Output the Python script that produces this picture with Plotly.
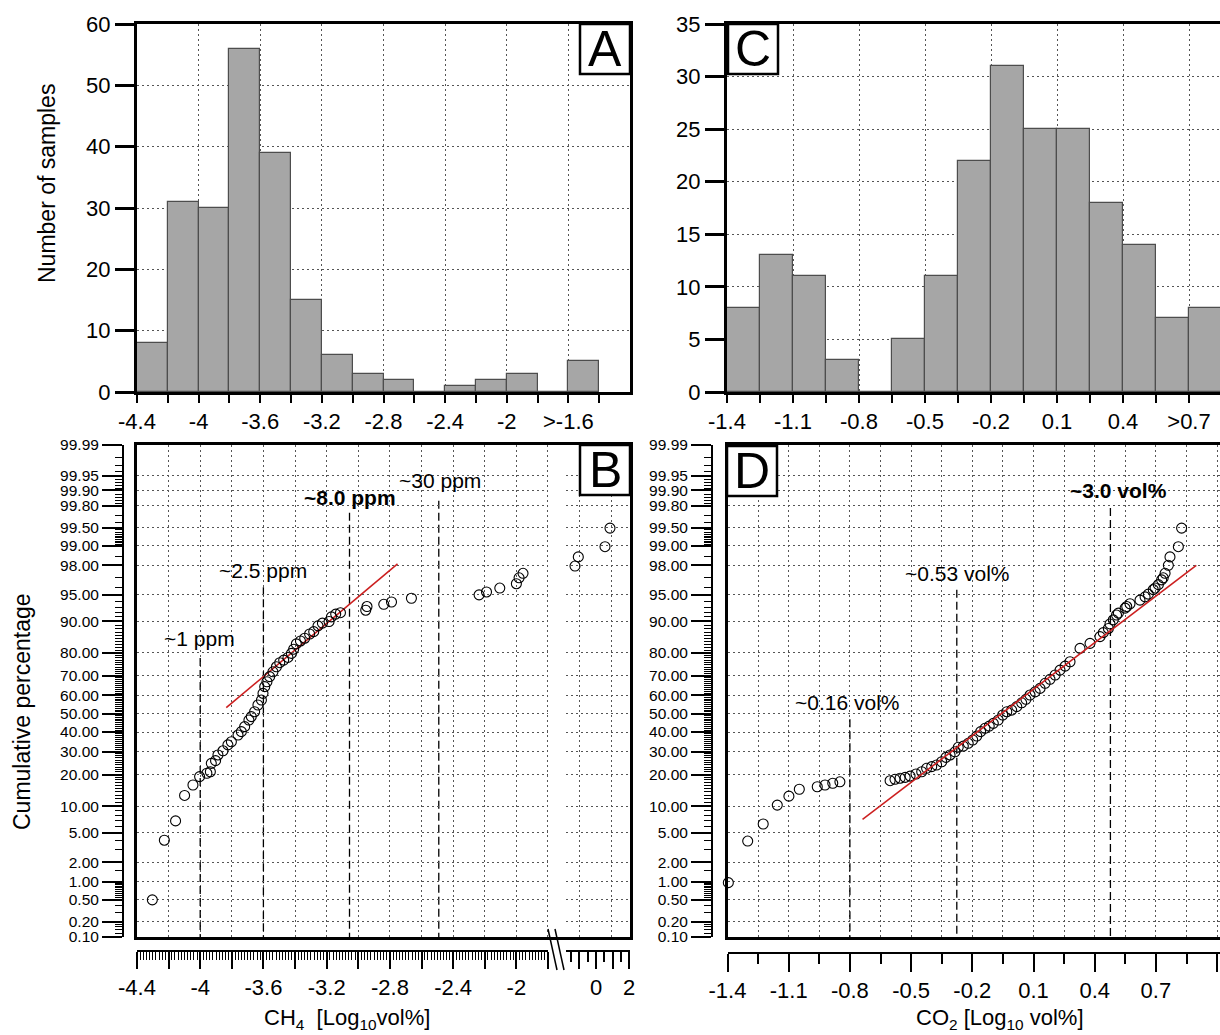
import numpy as np
import plotly.graph_objects as go
from statistics import NormalDist

W, H = 1220, 1035
FONT = "Liberation Sans, Arial, Helvetica, sans-serif"
ND = NormalDist()


def fx(px):
    return px / W


def fy(py):
    return 1 - py / H


def probit(p):
    return ND.inv_cdf(p / 100.0)


# ---------------- data: histograms ----------------
ch4_bin_lo = [-4.4, -4.2, -4.0, -3.8, -3.6, -3.4, -3.2, -3.0, -2.8, -2.6, -2.4, -2.2, -2.0, -1.8, -1.6]
ch4_counts = [8, 31, 30, 56, 39, 15, 6, 3, 2, 0, 1, 2, 3, 0, 5]
ch4_bin_w = 0.2
ch4_tickvals = [-4.4, -4.0, -3.6, -3.2, -2.8, -2.4, -2.0, -1.6]
ch4_ticktext = ["-4.4", "-4", "-3.6", "-3.2", "-2.8", "-2.4", "-2", ">-1.6"]
ch4_minorvals = [-4.2, -3.8, -3.4, -3.0, -2.6, -2.2, -1.8, -1.4]

co2_bin_lo = [-1.4, -1.25, -1.1, -0.95, -0.8, -0.65, -0.5, -0.35, -0.2, -0.05, 0.1, 0.25, 0.4, 0.55, 0.7]
co2_counts = [8, 13, 11, 3, 0, 5, 11, 22, 31, 25, 25, 18, 14, 7, 8]
co2_bin_w = 0.15
co2_tickvals = [-1.4, -1.1, -0.8, -0.5, -0.2, 0.1, 0.4, 0.7]
co2_ticktext = ["-1.4", "-1.1", "-0.8", "-0.5", "-0.2", "0.1", "0.4", ">0.7"]
co2_minorvals = [-1.25, -0.95, -0.65, -0.35, -0.05, 0.25, 0.55]

# ---------------- data: probability plots ----------------
prob_ticks = [99.99, 99.95, 99.9, 99.8, 99.5, 99, 98, 95, 90, 80, 70, 60, 50, 40, 30,
              20, 10, 5, 2, 1, 0.5, 0.2, 0.1]
prob_ticktext = ["99.99", "99.95", "99.90", "99.80", "99.50", "99.00", "98.00", "95.00",
                 "90.00", "80.00", "70.00", "60.00", "50.00", "40.00", "30.00", "20.00",
                 "10.00", "5.00", "2.00", "1.00", "0.50", "0.20", "0.10"]

ch4_x = [-4.303, -4.227, -4.156, -4.099, -4.046, -4.004, -3.958, -3.936, -3.930, -3.903,
         -3.888, -3.856, -3.825, -3.803, -3.761, -3.740, -3.719, -3.692, -3.677, -3.656,
         -3.635, -3.613, -3.603, -3.592, -3.578, -3.561, -3.540, -3.518, -3.497, -3.472,
         -3.445, -3.423, -3.409, -3.392, -3.366, -3.339, -3.308, -3.282, -3.255, -3.227,
         -3.185, -3.170, -3.143, -3.113, -2.953, -2.945, -2.839, -2.790, -2.664, -2.236,
         -2.189, -2.105, -2.000, -1.983, -1.958]
ch4_pct = [0.50, 4.0, 6.9, 12.9, 16.2, 19.2, 20.5, 21.1, 24.6, 25.8,
           28.4, 30.4, 33.3, 34.9, 38.4, 40.2, 42.9, 46.5, 48.4, 51.1,
           54.8, 57.5, 61.1, 64.6, 67.1, 69.6, 71.9, 74.2, 76.0, 77.1,
           78.2, 79.8, 81.4, 83.3, 84.3, 85.2, 86.5, 87.2, 88.8, 89.5,
           89.9, 91.0, 91.6, 91.9, 92.4, 93.1, 93.5, 93.9, 94.5, 95.0,
           95.4, 95.9, 96.4, 97.0, 97.4]
ch4_x_hi = [-1.265, -1.066, 0.542, 0.843]
ch4_pct_hi = [97.95, 98.5, 98.96, 99.49]

co2_x = [-1.396, -1.301, -1.225, -1.156, -1.099, -1.048, -0.960, -0.922, -0.884, -0.849,
         -0.603, -0.579, -0.554, -0.529, -0.505, -0.476, -0.448, -0.424, -0.399, -0.375,
         -0.350, -0.329, -0.309, -0.285, -0.269, -0.244, -0.220, -0.198, -0.178, -0.159,
         -0.138, -0.117, -0.097, -0.073, -0.051, -0.031, -0.007, 0.018, 0.042, 0.063,
         0.083, 0.108, 0.132, 0.157, 0.181, 0.206, 0.230, 0.255, 0.279,
         0.442, 0.475, 0.507, 0.557, 0.647, 0.696, 0.736,
         0.328, 0.377, 0.426, 0.467, 0.491, 0.516, 0.549, 0.573, 0.622, 0.663, 0.687,
         0.712, 0.728, 0.745, 0.761, 0.769, 0.810, 0.826]
co2_pct = [0.97, 3.9, 6.35, 10.3, 12.7, 14.8, 15.6, 16.2, 16.8, 17.3,
           17.7, 18.2, 18.6, 18.9, 19.4, 20.2, 21.1, 22.5, 23.2, 23.9,
           25.3, 27.3, 28.4, 29.9, 32.1, 32.7, 34.1, 35.8, 37.9, 40.2,
           42.0, 43.2, 44.7, 46.5, 49.3, 51.1, 52.0, 53.9, 56.0, 57.9,
           60.2, 61.9, 63.7, 66.3, 68.3, 70.4, 72.7, 74.5, 76.4,
           86.9, 89.3, 91.4, 93.1, 94.7, 95.9, 97.0,
           81.7, 83.5, 85.7, 88.1, 90.3, 91.8, 92.8, 93.6, 94.2, 95.1, 95.7,
           96.3, 96.8, 97.4, 98.0, 98.5, 98.96, 99.49]

ch4_thr_x = [-4.0, -3.6, -3.055, -2.49]
ch4_thr_top = [78.0, 96.0, 99.73, 99.84]
ch4_thr_text = ["~1 ppm", "~2.5 ppm", "<b>~8.0 ppm</b>", "~30 ppm"]
co2_thr_x = [-0.80, -0.276, 0.477]
co2_thr_top = [47.0, 95.7, 99.78]
co2_thr_text = ["~0.16 vol%", "~0.53 vol%", "<b>~3.0 vol%</b>"]

ch4_fit_x = [-3.835, -2.751]
ch4_fit_pct = [53.3, 98.09]
co2_fit_x = [-0.738, 0.898]
co2_fit_pct = [7.2, 98.0]

# ---------------- minor tick positions (axis decoration) ----------------
minor_segments = [(0.1, 0.2, 0.02), (0.2, 0.5, 0.1), (0.5, 1, 0.05), (1, 2, 0.5),
                  (2, 5, 1), (5, 10, 1), (10, 90, 1), (90, 95, 1), (95, 98, 1),
                  (98, 99, 0.5), (99, 99.5, 0.05), (99.5, 99.8, 0.1), (99.8, 99.9, 0.02),
                  (99.9, 99.95, 0.01), (99.95, 99.99, 0.01)]
minor_pct = []
for a, b, s in minor_segments:
    for v in np.arange(a + s, b - s / 2, s):
        v = round(float(v), 4)
        if all(abs(v - t) > 1e-6 for t in prob_ticks):
            minor_pct.append(v)
prob_minor = [probit(p) for p in minor_pct]
prob_major = [probit(p) for p in prob_ticks]
zlo, zhi = probit(0.1), probit(99.99)

ch4_major_lo = [round(-4.4 + 0.2 * i, 2) for i in range(14)]
ch4_major_text = [("%g" % v if i % 2 == 0 else "") for i, v in enumerate(ch4_major_lo)]
ch4_minor_lo = [round(v, 3) for v in np.arange(-4.4, -1.79, 0.02)
                if abs(round(v / 0.2) * 0.2 - v) > 1e-6]

co2_disp_vals = [-1.4, -1.1, -0.8, -0.5, -0.2, 0.1, 0.4, 0.7, 1.0]
co2_disp_text = ["-1.4", "-1.1", "-0.8", "-0.5", "-0.2", "0.1", "0.4", "0.7", "1"]
co2_disp_minor = [-1.25, -0.95, -0.65, -0.35, -0.05, 0.25, 0.55, 0.85]

# ---------------- figure ----------------
fig = go.Figure()
BAR = dict(color="#a6a6a6", line=dict(color="#4d4d4d", width=1.2))

fig.add_trace(go.Bar(x=[lo + ch4_bin_w / 2 for lo in ch4_bin_lo], y=ch4_counts, width=ch4_bin_w,
                     marker=BAR, xaxis="x", yaxis="y"))
fig.add_trace(go.Bar(x=[lo + co2_bin_w / 2 for lo in co2_bin_lo], y=co2_counts, width=co2_bin_w,
                     marker=BAR, xaxis="x2", yaxis="y2"))

MK = dict(symbol="circle-open", size=10, color="black", line=dict(width=1.1, color="black"))
fig.add_trace(go.Scatter(x=ch4_x, y=[probit(p) for p in ch4_pct], mode="markers", marker=MK,
                         xaxis="x5", yaxis="y3", cliponaxis=False))
fig.add_trace(go.Scatter(x=ch4_x_hi, y=[probit(p) for p in ch4_pct_hi], mode="markers", marker=MK,
                         xaxis="x6", yaxis="y3", cliponaxis=False))
fig.add_trace(go.Scatter(x=co2_x, y=[probit(p) for p in co2_pct], mode="markers", marker=MK,
                         xaxis="x4", yaxis="y4", cliponaxis=False))

DASH = dict(color="black", width=1.3, dash="8px,4px")
RED = dict(color="#cc1f1f", width=1.6)
for xv, top in zip(ch4_thr_x, ch4_thr_top):
    fig.add_trace(go.Scatter(x=[xv, xv], y=[probit(top), zlo], mode="lines", line=DASH,
                             xaxis="x3", yaxis="y5"))
for xv, top in zip(co2_thr_x, co2_thr_top):
    fig.add_trace(go.Scatter(x=[xv, xv], y=[probit(top), zlo], mode="lines", line=DASH,
                             xaxis="x7", yaxis="y6"))
fig.add_trace(go.Scatter(x=ch4_fit_x, y=[probit(p) for p in ch4_fit_pct], mode="lines",
                         line=RED, xaxis="x3", yaxis="y5"))
fig.add_trace(go.Scatter(x=co2_fit_x, y=[probit(p) for p in co2_fit_pct], mode="lines",
                         line=RED, xaxis="x7", yaxis="y6"))

GRID = dict(showgrid=True, gridcolor="#555555", griddash="2px,3px", gridwidth=1)
NOGRID = dict(showgrid=False)
TF22 = dict(family=FONT, size=22, color="black")
TF15 = dict(family=FONT, size=15.5, color="black")


def ax(**kw):
    d = dict(zeroline=False, linecolor="black", tickcolor="black", tickfont=TF22,
             automargin=False)
    d.update(kw)
    return d


yA = [fy(392), fy(24)]
yB = [fy(937), fy(445)]

layout = dict(
    width=W, height=H, margin=dict(l=0, r=0, t=0, b=0, pad=0, autoexpand=False),
    paper_bgcolor="white", plot_bgcolor="rgba(0,0,0,0)", showlegend=False, bargap=0,
    font=dict(family=FONT, color="black"),
    # Panel A
    xaxis=ax(domain=[fx(137), fx(630)], anchor="y", range=[-4.4, -1.2], tickmode="array",
             tickvals=ch4_tickvals, ticktext=ch4_ticktext, ticks="outside", ticklen=8, tickwidth=2,
             minor=dict(tickmode="array", tickvals=ch4_minorvals, ticks="outside", ticklen=8,
                        tickwidth=2, tickcolor="black", showgrid=False),
             showline=True, linewidth=3, mirror=True, **GRID),
    yaxis=ax(domain=yA, anchor="x", range=[0, 60], tickmode="array",
             tickvals=[0, 10, 20, 30, 40, 50, 60], ticks="outside", ticklen=19, tickwidth=3,
             showline=True, linewidth=3, mirror=True, **GRID),
    # Panel C
    xaxis2=ax(domain=[fx(727), 1.0], anchor="y2", range=[-1.4, -1.4 + 493 / 220],
              tickmode="array", tickvals=co2_tickvals, ticktext=co2_ticktext, ticks="outside",
              ticklen=8, tickwidth=2,
              minor=dict(tickmode="array", tickvals=co2_minorvals, ticks="outside", ticklen=8,
                         tickwidth=2, tickcolor="black", showgrid=False),
              showline=True, linewidth=3, mirror=True, **GRID),
    yaxis2=ax(domain=yA, anchor="x2", range=[0, 35], tickmode="array",
              tickvals=[0, 5, 10, 15, 20, 25, 30, 35], ticks="outside", ticklen=19, tickwidth=3,
              showline=True, linewidth=3, mirror=False, **GRID),
    # Panel B grid box
    xaxis3=ax(domain=[fx(137), fx(630)], anchor="y3", range=[-4.4, -4.4 + 493 / 158],
              tickmode="linear", tick0=-4.4, dtick=0.2, ticks="", showticklabels=False,
              showline=True, linewidth=3, mirror=True, **GRID),
    yaxis3=ax(domain=yB, anchor="x3", range=[zlo, zhi], tickmode="array", tickvals=prob_major,
              ticks="", showticklabels=False, showline=True, linewidth=3, mirror=True, **GRID),
    # Panel B display axes
    yaxis5=ax(overlaying="y3", anchor="free", position=fx(123), side="left", range=[zlo, zhi],
              tickmode="array", tickvals=prob_major, ticktext=prob_ticktext, ticks="outside",
              ticklen=20, tickwidth=1.5, tickfont=TF15, showline=True, linewidth=2,
              minor=dict(tickmode="array", tickvals=prob_minor, ticks="outside", ticklen=7,
                         tickwidth=1, tickcolor="black", showgrid=False), **NOGRID),
    xaxis5=ax(domain=[fx(137), fx(548)], anchor="free", position=fy(951), range=[-4.4, -1.8],
              tickmode="array", tickvals=ch4_major_lo, ticktext=ch4_major_text, ticks="outside",
              ticklen=17, tickwidth=1.5, showline=True, linewidth=2,
              minor=dict(tickmode="array", tickvals=ch4_minor_lo, ticks="outside", ticklen=8,
                         tickwidth=1, tickcolor="black", showgrid=False), **NOGRID),
    xaxis6=ax(domain=[fx(566), fx(630)], anchor="free", position=fy(951),
              range=[(566 - 596) / 16.6, (630 - 596) / 16.6], tickmode="array",
              tickvals=[-1, 0, 1, 2], ticktext=["", "0", "", "2"], ticks="outside", ticklen=17,
              tickwidth=1.5, showline=True, linewidth=2,
              minor=dict(tickmode="array", tickvals=[-1.5, -0.5, 0.5, 1.5], ticks="outside",
                         ticklen=10, tickwidth=1.5, tickcolor="black", showgrid=False), **NOGRID),
    # Panel D grid box
    xaxis4=ax(domain=[fx(727.5), 1.0], anchor="y4", range=[-1.4, -1.4 + (W - 727.5) / 204],
              tickmode="linear", tick0=-1.4, dtick=0.15, ticks="", showticklabels=False,
              showline=True, linewidth=3, mirror=True, **GRID),
    yaxis4=ax(domain=yB, anchor="x4", range=[zlo, zhi], tickmode="array", tickvals=prob_major,
              ticks="", showticklabels=False, showline=True, linewidth=3, mirror=False, **GRID),
    # Panel D display axes
    yaxis6=ax(overlaying="y4", anchor="free", position=fx(712), side="left", range=[zlo, zhi],
              tickmode="array", tickvals=prob_major, ticktext=prob_ticktext, ticks="outside",
              ticklen=20, tickwidth=1.5, tickfont=TF15, showline=True, linewidth=2,
              minor=dict(tickmode="array", tickvals=prob_minor, ticks="outside", ticklen=7,
                         tickwidth=1, tickcolor="black", showgrid=False), **NOGRID),
    xaxis7=ax(overlaying="x4", anchor="free", position=fy(953),
              range=[-1.4, -1.4 + (W - 727.5) / 204], tickmode="array", tickvals=co2_disp_vals,
              ticktext=co2_disp_text, ticks="outside", ticklen=18, tickwidth=1.5,
              showline=True, linewidth=2,
              minor=dict(tickmode="array", tickvals=co2_disp_minor, ticks="outside", ticklen=10,
                         tickwidth=1.5, tickcolor="black", showgrid=False), **NOGRID),
)
fig.update_layout(**layout)

shapes = []
annotations = []
# panel letters
for letter, (x0, y0) in zip(["A", "C", "B", "D"], [(580, 24), (728, 24), (580, 445), (727, 446)]):
    shapes.append(dict(type="rect", xref="paper", yref="paper", x0=fx(x0), x1=fx(x0 + 50),
                       y0=fy(y0 + 50), y1=fy(y0), line=dict(color="black", width=2.5),
                       fillcolor="white", layer="above"))
    annotations.append(dict(text=letter, xref="paper", yref="paper", x=fx(x0 + 25), y=fy(y0 + 25),
                            xanchor="center", yanchor="middle", showarrow=False,
                            font=dict(family=FONT, size=50, color="black")))
# axis break marks
for xa, xb in [(548, 557), (555, 564)]:
    shapes.append(dict(type="line", xref="paper", yref="paper", x0=fx(xa), x1=fx(xb),
                       y0=fy(929), y1=fy(970), line=dict(color="black", width=1.5)))

# threshold labels
label_pos_B = [(200, 638), (263, 570), (350, 497), (440, 480)]
label_pos_D = [(847, 702), (957, 573), (1118, 490)]
for txt, (px, py) in zip(ch4_thr_text + co2_thr_text, label_pos_B + label_pos_D):
    annotations.append(dict(text=txt, xref="paper", yref="paper", x=fx(px), y=fy(py),
                            xanchor="center", yanchor="middle", showarrow=False,
                            font=dict(family=FONT, size=21, color="black")))

# axis titles
annotations += [
    dict(text="Number of samples", xref="paper", yref="paper", x=fx(47), y=fy(184),
         textangle=-90, showarrow=False, xanchor="center", yanchor="middle",
         font=dict(family=FONT, size=23, color="black")),
    dict(text="Cumulative percentage", xref="paper", yref="paper", x=fx(22), y=fy(712),
         textangle=-90, showarrow=False, xanchor="center", yanchor="middle",
         font=dict(family=FONT, size=23, color="black")),
    dict(text="CH<sub>4</sub>  [Log<sub>10</sub>vol%]", xref="paper", yref="paper",
         x=fx(347), y=fy(1019), showarrow=False, xanchor="center", yanchor="middle",
         font=dict(family=FONT, size=22, color="black")),
    dict(text="CO<sub>2</sub> [Log<sub>10</sub> vol%]", xref="paper", yref="paper",
         x=fx(1000), y=fy(1019), showarrow=False, xanchor="center", yanchor="middle",
         font=dict(family=FONT, size=22, color="black")),
]
fig.update_layout(shapes=shapes, annotations=annotations)
fig.write_html("out.html", config={"responsive": False, "displayModeBar": False},
               post_script="document.body.style.margin='0';"
                           "document.body.style.overflow='hidden';")
